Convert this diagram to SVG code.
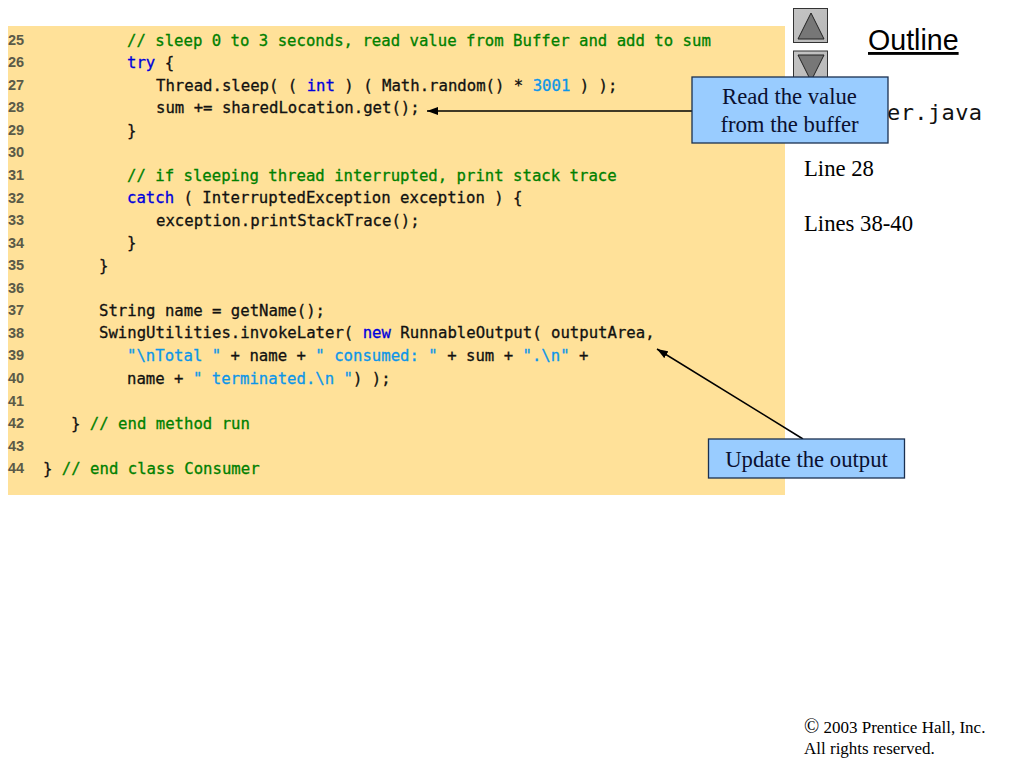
<svg xmlns="http://www.w3.org/2000/svg" width="1024" height="768" viewBox="0 0 1024 768">
<defs>
<marker id="ah" markerUnits="userSpaceOnUse" markerWidth="11" markerHeight="8" refX="11" refY="4" orient="auto"><path d="M0 0L11 4L0 8z" fill="#000"/></marker>
<linearGradient id="b" x1="0" y1="0" x2="1" y2="1"><stop offset="0" stop-color="#c4c4c4"/><stop offset="1" stop-color="#b8b8b8"/></linearGradient>
</defs>
<style>
.n{font:bold 14.5px "Liberation Sans",Arial,sans-serif;fill:#5a5a48}
.c{font:15.65px "DejaVu Sans Mono",monospace;fill:#111;stroke:#111;stroke-width:.3;white-space:pre}
.g{fill:#008000;stroke:#008000}.k{fill:#0000dd;stroke:#0000dd}.s{fill:#0d96e8;stroke:#0d96e8}
.t{font:22.7px "Liberation Serif",serif;fill:#0a1030;text-anchor:middle}
.o{font:22.7px "Liberation Serif",serif;fill:#000}
.box{fill:#99ccff;stroke:#1b3050;stroke-width:1.3}
</style>
<rect id="code-bg" x="8" y="26" width="777" height="469" fill="#ffe199"/>
<g id="line-numbers">
<text class="n" x="8" y="45">25</text><text class="n" x="8" y="67">26</text><text class="n" x="8" y="90">27</text><text class="n" x="8" y="112">28</text><text class="n" x="8" y="135">29</text><text class="n" x="8" y="157">30</text><text class="n" x="8" y="180">31</text><text class="n" x="8" y="203">32</text><text class="n" x="8" y="225">33</text><text class="n" x="8" y="248">34</text><text class="n" x="8" y="270">35</text><text class="n" x="8" y="293">36</text><text class="n" x="8" y="315">37</text><text class="n" x="8" y="338">38</text><text class="n" x="8" y="360">39</text><text class="n" x="8" y="383">40</text><text class="n" x="8" y="406">41</text><text class="n" x="8" y="428">42</text><text class="n" x="8" y="451">43</text><text class="n" x="8" y="473">44</text>
</g>
<g id="code">
<text class="c g" x="127" y="45.500">// sleep 0 to 3 seconds, read value from Buffer and add to sum</text>
<text class="c" x="127" y="68"><tspan class="k">try</tspan> {</text>
<text class="c" x="156" y="90.500">Thread.sleep( ( <tspan class="k">int</tspan> ) ( Math.random() * <tspan class="s">3001</tspan> ) );</text>
<text class="c" x="156" y="113">sum += sharedLocation.get();</text>
<text class="c" x="127" y="135.500">}</text>
<text class="c g" x="127" y="180.500">// if sleeping thread interrupted, print stack trace</text>
<text class="c" x="127" y="203"><tspan class="k">catch</tspan> ( InterruptedException exception ) {</text>
<text class="c" x="156" y="225.500">exception.printStackTrace();</text>
<text class="c" x="127" y="248">}</text>
<text class="c" x="99" y="270.500">}</text>
<text class="c" x="99" y="315.500">String name = getName();</text>
<text class="c" x="99" y="338">SwingUtilities.invokeLater( <tspan class="k">new</tspan> RunnableOutput( outputArea,</text>
<text class="c" x="127" y="361"><tspan class="s">"\nTotal "</tspan> + name + <tspan class="s">" consumed: "</tspan> + sum + <tspan class="s">".\n"</tspan> +</text>
<text class="c" x="127" y="383.500">name + <tspan class="s">" terminated.\n "</tspan>) );</text>
<text class="c" x="71" y="428.500">} <tspan class="g">// end method run</tspan></text>
<text class="c" x="43" y="473.500">} <tspan class="g">// end class Consumer</tspan></text>
</g>
<g id="nav-up"><rect x="793.500" y="8.500" width="34" height="34" fill="url(#b)" stroke="#333" stroke-width="1"/><path d="M811 13L824 39H798z" fill="#777" stroke="#222" stroke-width="1"/></g>
<g id="nav-down"><rect x="793.500" y="51" width="34" height="34" fill="url(#b)" stroke="#333" stroke-width="1"/><path d="M798 55H824L811 81z" fill="#777" stroke="#222" stroke-width="1"/></g>
<g id="outline-title"><text x="868" y="50" font-family="Liberation Sans,Arial,sans-serif" font-size="28.600" text-decoration="underline">Outline</text></g>
<g id="side-notes">
<text x="887" y="120" font-family="DejaVu Sans Mono,monospace" font-size="22" fill="#111" textLength="95">er.java</text>
<text class="o" x="804" y="175.500">Line 28</text>
<text class="o" x="804" y="230.500">Lines 38-40</text>
<text x="804" y="733" font-family="Liberation Serif,serif" font-size="17"><tspan font-size="20">©</tspan> 2003 Prentice Hall, Inc.</text>
<text x="804" y="754" font-family="Liberation Serif,serif" font-size="17">All rights reserved.</text>
</g>
<g id="connectors" stroke="#000" stroke-width="1.5" fill="none">
<line x1="692" y1="111" x2="427" y2="111" marker-end="url(#ah)"/>
<line x1="803" y1="439" x2="657" y2="349" marker-end="url(#ah)"/>
</g>
<g id="callout-read"><rect class="box" x="692" y="77" width="196" height="66"/><text class="t" x="789.500" y="103.700">Read the value</text><text class="t" x="789.500" y="131.700">from the buffer</text></g>
<g id="callout-update"><rect class="box" x="708.500" y="439" width="196" height="39"/><text class="t" x="806.500" y="466.700">Update the output</text></g>
</svg>
